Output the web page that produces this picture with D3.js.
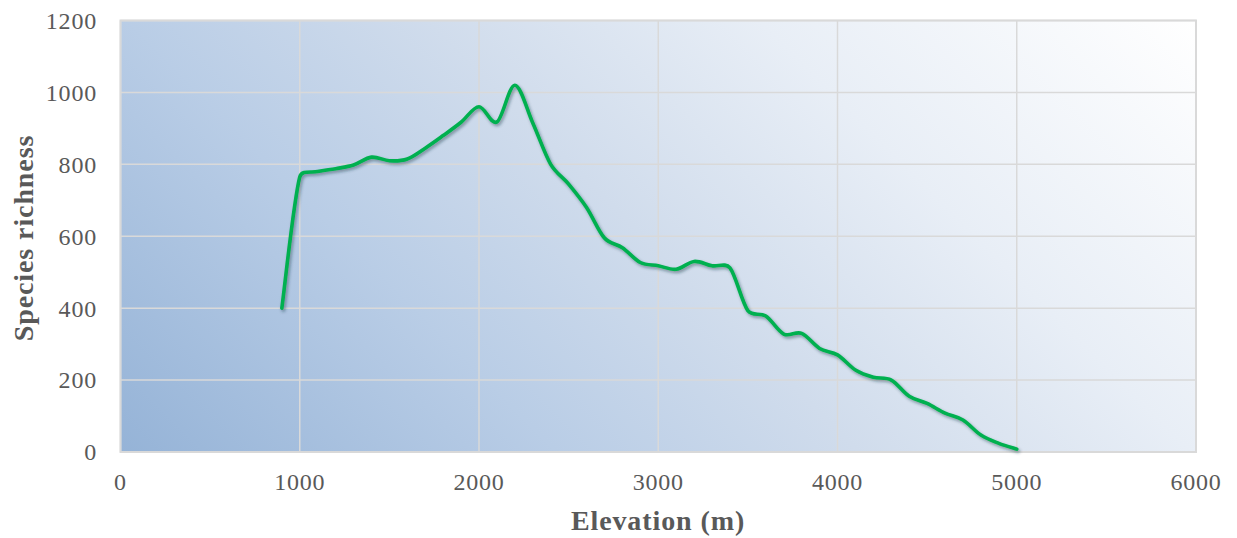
<!DOCTYPE html>
<html>
<head>
<meta charset="utf-8">
<script src="https://cdn.jsdelivr.net/npm/d3@7"></script>
<style>
  html, body { margin: 0; padding: 0; background: #ffffff; }
  svg { display: block; }
  .tick-label { font-family: "Liberation Serif", "DejaVu Serif", serif; font-size: 24px; letter-spacing: 0.8px; fill: #595959; }
  .axis-title { font-family: "Liberation Serif", "DejaVu Serif", serif; font-size: 28px; font-weight: bold; letter-spacing: 0.9px; fill: #595959; }
</style>
</head>
<body>
<svg id="chart" width="1237" height="538"></svg>
<script>
// Species richness along the elevation gradient
const elevation = [900, 1000, 1100, 1200, 1300, 1400, 1500, 1600, 1700, 1800, 1900, 2000,
  2100, 2200, 2300, 2400, 2500, 2600, 2700, 2800, 2900, 3000, 3100, 3200, 3300, 3400,
  3500, 3600, 3700, 3800, 3900, 4000, 4100, 4200, 4300, 4400, 4500, 4600, 4700, 4800,
  4900, 5000];
const richness = [400, 765, 780, 788, 798, 820, 810, 815, 845, 880, 917, 960,
  918, 1020, 915, 800, 745, 680, 595, 568, 527, 518, 508, 530, 518, 512,
  393, 378, 328, 330, 288, 270, 228, 208, 200, 155, 135, 108, 89, 47,
  24, 8];
const xTicks = [0, 1000, 2000, 3000, 4000, 5000, 6000];
const yTicks = [0, 200, 400, 600, 800, 1000, 1200];
const xTitle = "Elevation (m)";
const yTitle = "Species richness";

const svg = d3.select("#chart");
const plot = { left: 120.5, right: 1196, top: 20.5, bottom: 452 };

const x = d3.scaleLinear().domain([0, 6000]).range([plot.left, plot.right]);
const y = d3.scaleLinear().domain([0, 1200]).range([plot.bottom, plot.top]);

// Smoothed line: Catmull-Rom style tangents, with each Bezier handle kept
// shorter than a fraction of its own segment so sharp corners do not overshoot.
function smoothClamped(context) {
  return {
    areaStart() {}, areaEnd() {},
    lineStart() { this._pts = []; },
    point(px, py) { this._pts.push([+px, +py]); },
    lineEnd() {
      const p = this._pts, n = p.length;
      if (!n) return;
      context.moveTo(p[0][0], p[0][1]);
      if (n === 1) return;
      const tan = p.map((_, i) => {
        const a = p[Math.max(i - 1, 0)], b = p[Math.min(i + 1, n - 1)];
        return [(b[0] - a[0]) / 6, (b[1] - a[1]) / 6];
      });
      const limit = (t, maxLen) => {
        const len = Math.hypot(t[0], t[1]);
        if (len <= maxLen || len === 0) return t;
        return [t[0] * maxLen / len, t[1] * maxLen / len];
      };
      for (let i = 0; i < n - 1; i++) {
        const a = p[i], b = p[i + 1];
        const seg = Math.hypot(b[0] - a[0], b[1] - a[1]);
        const t0 = limit(tan[i], seg * 0.4), t1 = limit(tan[i + 1], seg * 0.4);
        context.bezierCurveTo(a[0] + t0[0], a[1] + t0[1], b[0] - t1[0], b[1] - t1[1], b[0], b[1]);
      }
    }
  };
}

const defs = svg.append("defs");
// 45-degree fill running from the lower-left corner out to the upper-right corner
const span = ((plot.right - plot.left) + (plot.bottom - plot.top)) / 2;
const grad = defs.append("linearGradient")
  .attr("id", "plotFill")
  .attr("gradientUnits", "userSpaceOnUse")
  .attr("x1", plot.left).attr("y1", plot.bottom)
  .attr("x2", plot.left + span).attr("y2", plot.bottom - span);
grad.append("stop").attr("offset", "0").attr("stop-color", "#95b3d7");
grad.append("stop").attr("offset", "0.29").attr("stop-color", "#b9cde6");
grad.append("stop").attr("offset", "0.49").attr("stop-color", "#d0dcec");
grad.append("stop").attr("offset", "0.71").attr("stop-color", "#e8eef6");
grad.append("stop").attr("offset", "1").attr("stop-color", "#ffffff");

const shadow = defs.append("filter").attr("id", "lineShadow")
  .attr("x", "-10%").attr("y", "-10%").attr("width", "120%").attr("height", "120%");
shadow.append("feDropShadow")
  .attr("dx", 1.5).attr("dy", 2).attr("stdDeviation", 1.4)
  .attr("flood-color", "#1f3040").attr("flood-opacity", 0.45);

// plot background
svg.append("rect")
  .attr("x", plot.left).attr("y", plot.top)
  .attr("width", plot.right - plot.left).attr("height", plot.bottom - plot.top)
  .attr("fill", "url(#plotFill)");

// gridlines
const grid = svg.append("g").attr("stroke", "#d9d9d9").attr("stroke-width", 1.5);
grid.selectAll("line.h").data(yTicks).join("line")
  .attr("x1", plot.left).attr("x2", plot.right)
  .attr("y1", d => y(d)).attr("y2", d => y(d));
grid.selectAll("line.v").data(xTicks).join("line")
  .attr("y1", plot.top).attr("y2", plot.bottom)
  .attr("x1", d => x(d)).attr("x2", d => x(d));

// plot border
svg.append("rect")
  .attr("x", plot.left).attr("y", plot.top)
  .attr("width", plot.right - plot.left).attr("height", plot.bottom - plot.top)
  .attr("fill", "none").attr("stroke", "#d9d9d9").attr("stroke-width", 2);

// tick labels
svg.append("g").selectAll("text").data(yTicks).join("text")
  .attr("class", "tick-label")
  .attr("x", 97).attr("y", d => y(d))
  .attr("dy", "0.35em")
  .attr("text-anchor", "end")
  .text(d => d);
svg.append("g").selectAll("text").data(xTicks).join("text")
  .attr("class", "tick-label")
  .attr("x", d => x(d)).attr("y", 490)
  .attr("text-anchor", "middle")
  .text(d => d);

// axis titles
svg.append("text").attr("class", "axis-title")
  .attr("x", 658).attr("y", 530)
  .attr("text-anchor", "middle").text(xTitle);
svg.append("text").attr("class", "axis-title")
  .attr("transform", "translate(33, 238) rotate(-90)")
  .attr("text-anchor", "middle").text(yTitle);

// richness curve
const data = elevation.map((e, i) => ({ e, r: richness[i] }));
const line = d3.line()
  .x(d => x(d.e))
  .y(d => y(d.r))
  .curve(smoothClamped);
svg.append("path")
  .datum(data)
  .attr("d", line)
  .attr("fill", "none")
  .attr("stroke", "#00b050")
  .attr("stroke-width", 3.6)
  .attr("stroke-linejoin", "round")
  .attr("stroke-linecap", "round")
  .attr("filter", "url(#lineShadow)");
</script>
</body>
</html>
